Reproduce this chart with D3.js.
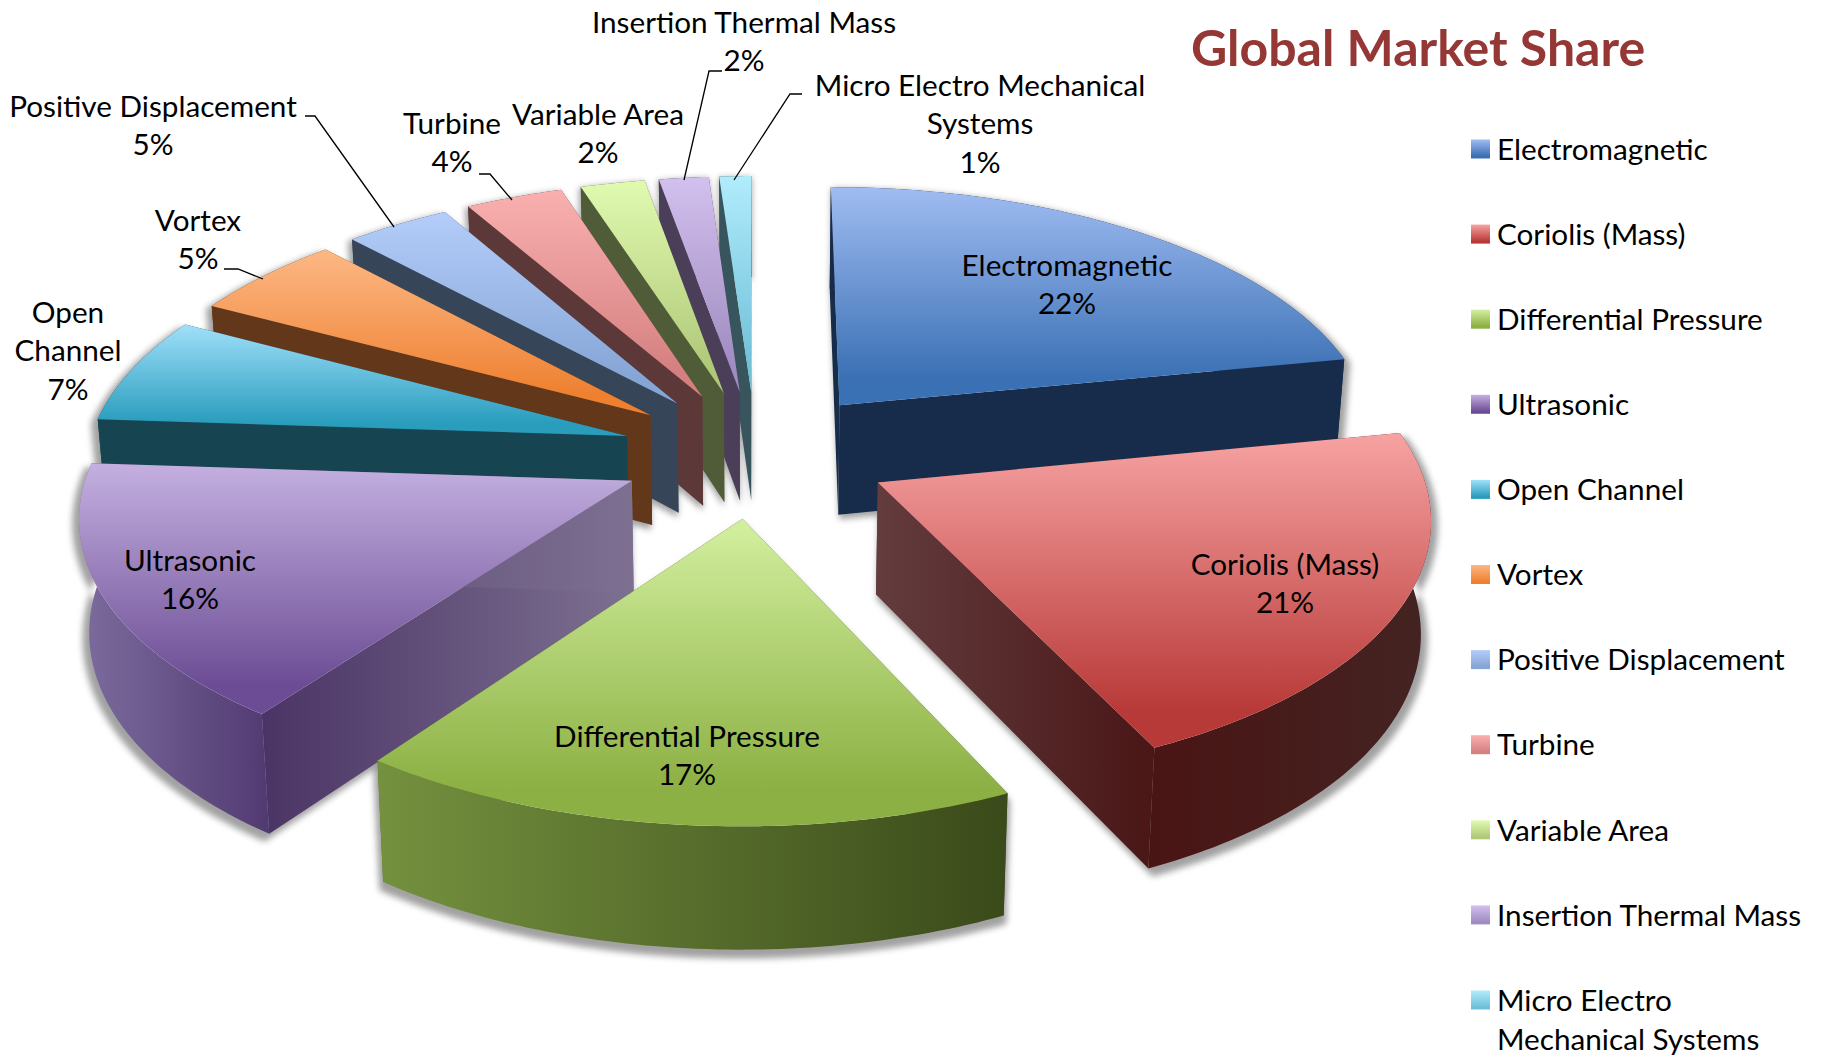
<!DOCTYPE html>
<html>
<head>
<meta charset="utf-8">
<script src="https://cdn.jsdelivr.net/npm/d3@7"></script>
<style>
  html, body { margin: 0; padding: 0; background: #fff; }
  text { font-family: Lato, "Open Sans", sans-serif; fill: #000; }
</style>
</head>
<body>
<svg id="chart"></svg>
<script>
// data
const categories = ['Electromagnetic', 'Coriolis (Mass)', 'Differential Pressure', 'Ultrasonic', 'Open Channel',
  'Vortex', 'Positive Displacement', 'Turbine', 'Variable Area', 'Insertion Thermal Mass', 'Micro Electro Mechanical Systems'];
const shares = [21.9, 21.1, 17.05, 16.05, 6.7, 5.3, 3.6, 3.33, 2.2, 1.7, 1.1];
const percentLabels = ['22%', '21%', '17%', '16%', '7%', '5%', '5%', '4%', '2%', '2%', '1%'];

// colours: top light, top dark, wall left, wall right
const topLight = ['#a0bcf2', '#f7a3a3', '#d3f0a0', '#c4b0e0', '#a0e0fa', '#fdb885', '#b4cdfa', '#fab0b0', '#e0fab0', '#d2c0ee', '#b0ecfc'];
const topDark = ['#3a70b4', '#b83a38', '#8cb043', '#6c4d95', '#2a9dbd', '#ee8030', '#85a5d5', '#d58080', '#b0c878', '#a08cc0', '#70c0d8'];
const cutLeft = ['#172c4a', '#633c3e', '#5a7034', '#4a3465', '#164450', '#63371a', '#364558', '#5c3838', '#505c38', '#4a3e58', '#38545c'];
const cutRight = ['#172c4a', '#4a1616', '#3a4a1a', '#7d7091', '#164450', '#63371a', '#364558', '#5c3838', '#505c38', '#4a3e58', '#38545c'];
const rimLeft = ['#172c4a', '#4a1414', '#74913e', '#7d6c9e', '#164450', '#63371a', '#364558', '#5c3838', '#505c38', '#4a3e58', '#38545c'];
const rimRight = ['#172c4a', '#432422', '#3a4a1a', '#513a72', '#164450', '#63371a', '#364558', '#5c3838', '#505c38', '#4a3e58', '#38545c'];

// label layout: centre x, first line centre y, lines
const labelLayout = [
  { x: 1067, y: 265, lines: ['Electromagnetic'] },
  { x: 1285, y: 564, lines: ['Coriolis (Mass)'] },
  { x: 687, y: 736, lines: ['Differential Pressure'] },
  { x: 190, y: 560, lines: ['Ultrasonic'] },
  { x: 68, y: 312, lines: ['Open', 'Channel'] },
  { x: 198, y: 220, lines: ['Vortex'] },
  { x: 153, y: 106, lines: ['Positive Displacement'] },
  { x: 452, y: 123, lines: ['Turbine'] },
  { x: 598, y: 114, lines: ['Variable Area'] },
  { x: 744, y: 22, lines: ['Insertion Thermal Mass'] },
  { x: 980, y: 85, lines: ['Micro Electro Mechanical', 'Systems'] }
];
const leaderLines = [
  [[305, 116], [315, 116], [394, 227]],
  [[479, 174], [490, 174], [512, 200]],
  [[224, 269], [238, 269], [263, 279]],
  [[722, 71], [709, 71], [684, 180]],
  [[802, 94], [790, 94], [734, 180]]
];

const width = 1823, height = 1055;
const cx = 755.7, cy = 453.4, radiusX = 540, radiusY = 254.6;
const tilt = 0.118, explode = 0.25, depth = 111, depthTilt = 0.08, bottomShrink = 0.985;
const fontSize = 29.7;

const svg = d3.select('#chart').attr('width', width).attr('height', height).style('display', 'block');
const defs = svg.append('defs');

function addGradient(id, c1, c2, vertical) {
  const g = defs.append('linearGradient').attr('id', id)
    .attr('x1', 0).attr('y1', 0).attr('x2', vertical ? 0 : 1).attr('y2', vertical ? 1 : 0);
  g.append('stop').attr('offset', '0%').attr('stop-color', c1);
  g.append('stop').attr('offset', vertical ? '88%' : '100%').attr('stop-color', c2);
}

defs.append('filter').attr('id', 'blur').attr('x', '-20%').attr('y', '-20%').attr('width', '140%').attr('height', '140%')
  .append('feGaussianBlur').attr('stdDeviation', 3);

// ground plane to screen
function topPoint(X, Y) {
  const w = 1 - tilt * Y;
  return [cx + radiusX * X / w, cy + radiusY * Y / w];
}
function bottomPoint(X, Y) {
  const p = topPoint(X, Y);
  return [cx + (p[0] - cx) * bottomShrink, p[1] + depth / (1 - depthTilt * Y)];
}

const pie = d3.pie().sort(null).value(d => d)(shares);
const line = d3.line();

const slices = pie.map((d, i) => {
  const mid = (d.startAngle + d.endAngle) / 2;
  const ox = explode * Math.sin(mid), oy = -explode * Math.cos(mid);
  const rim = d3.range(0, 1.0001, 1 / Math.max(2, Math.ceil((d.endAngle - d.startAngle) * 60))).map(t => {
    const a = d.startAngle + t * (d.endAngle - d.startAngle);
    return [ox + Math.sin(a), oy - Math.cos(a)];
  });
  return { i, apex: [ox, oy], rim };
});

function wall(ground) {
  return line(ground.map(p => topPoint(p[0], p[1])).concat(ground.slice().reverse().map(p => bottomPoint(p[0], p[1])))) + 'Z';
}

// soft shadow under everything
const shadow = svg.append('g').attr('filter', 'url(#blur)').attr('opacity', 0.55)
  .attr('transform', `translate(${cx},${cy + 4}) scale(1.01) translate(${-cx},${-cy})`);
slices.forEach(s => {
  shadow.append('path').attr('d', wall(s.rim)).attr('fill', '#555');
  shadow.append('path').attr('d', wall([s.apex, s.rim[0]])).attr('fill', '#555');
  shadow.append('path').attr('d', wall([s.apex, s.rim[s.rim.length - 1]])).attr('fill', '#555');
});

// back slices first, the three front ones last
const drawOrder = [10, 9, 8, 7, 6, 5, 4, 3, 0, 1, 2];
const pieGroup = svg.append('g');
drawOrder.forEach(i => {
  const s = slices[i];
  addGradient(`top${i}`, topLight[i], topDark[i], true);
  addGradient(`cut${i}`, cutLeft[i], cutRight[i], false);
  addGradient(`rim${i}`, rimLeft[i], rimRight[i], false);
  const g = pieGroup.append('g');
  g.append('path').attr('d', wall([s.apex, s.rim[0]])).attr('fill', `url(#cut${i})`);
  g.append('path').attr('d', wall([s.apex, s.rim[s.rim.length - 1]])).attr('fill', `url(#cut${i})`);
  g.append('path').attr('d', wall(s.rim)).attr('fill', `url(#rim${i})`);
  g.append('path').attr('d', line([s.apex].concat(s.rim).map(p => topPoint(p[0], p[1]))) + 'Z').attr('fill', `url(#top${i})`);
});

// leader lines
svg.append('g').selectAll('path').data(leaderLines).enter().append('path')
  .attr('d', d => line(d)).attr('fill', 'none').attr('stroke', '#000').attr('stroke-width', 1.3);

// data labels
const lineGap = 38.8;
const labels = svg.append('g').attr('font-size', fontSize).attr('text-anchor', 'middle');
labelLayout.forEach((l, i) => {
  const rows = l.lines.concat(percentLabels[i]);
  rows.forEach((t, j) => {
    labels.append('text').attr('x', l.x).attr('y', l.y + j * lineGap).attr('dy', '0.36em').text(t);
  });
});

// title
svg.append('text').attr('x', 1418).attr('y', 48).attr('dy', '0.35em').attr('text-anchor', 'middle')
  .attr('font-size', 50).attr('font-weight', 700).style('fill', '#953735').text('Global Market Share');

// legend
const legendY = d3.scalePoint().domain(categories).range([149, 1000]);
const legend = svg.append('g').selectAll('g').data(categories).enter().append('g')
  .attr('transform', d => `translate(1471,${legendY(d)})`);
legend.append('rect').attr('x', 0).attr('y', -9.5).attr('width', 19).attr('height', 19)
  .attr('fill', (d, i) => `url(#top${i})`);
legend.append('text').attr('x', 26).attr('dy', '0.36em').attr('font-size', fontSize)
  .text(d => d === 'Micro Electro Mechanical Systems' ? 'Micro Electro' : d);
legend.filter(d => d === 'Micro Electro Mechanical Systems').append('text')
  .attr('x', 26).attr('y', 39).attr('dy', '0.36em').attr('font-size', fontSize).text('Mechanical Systems');
</script>
</body>
</html>
